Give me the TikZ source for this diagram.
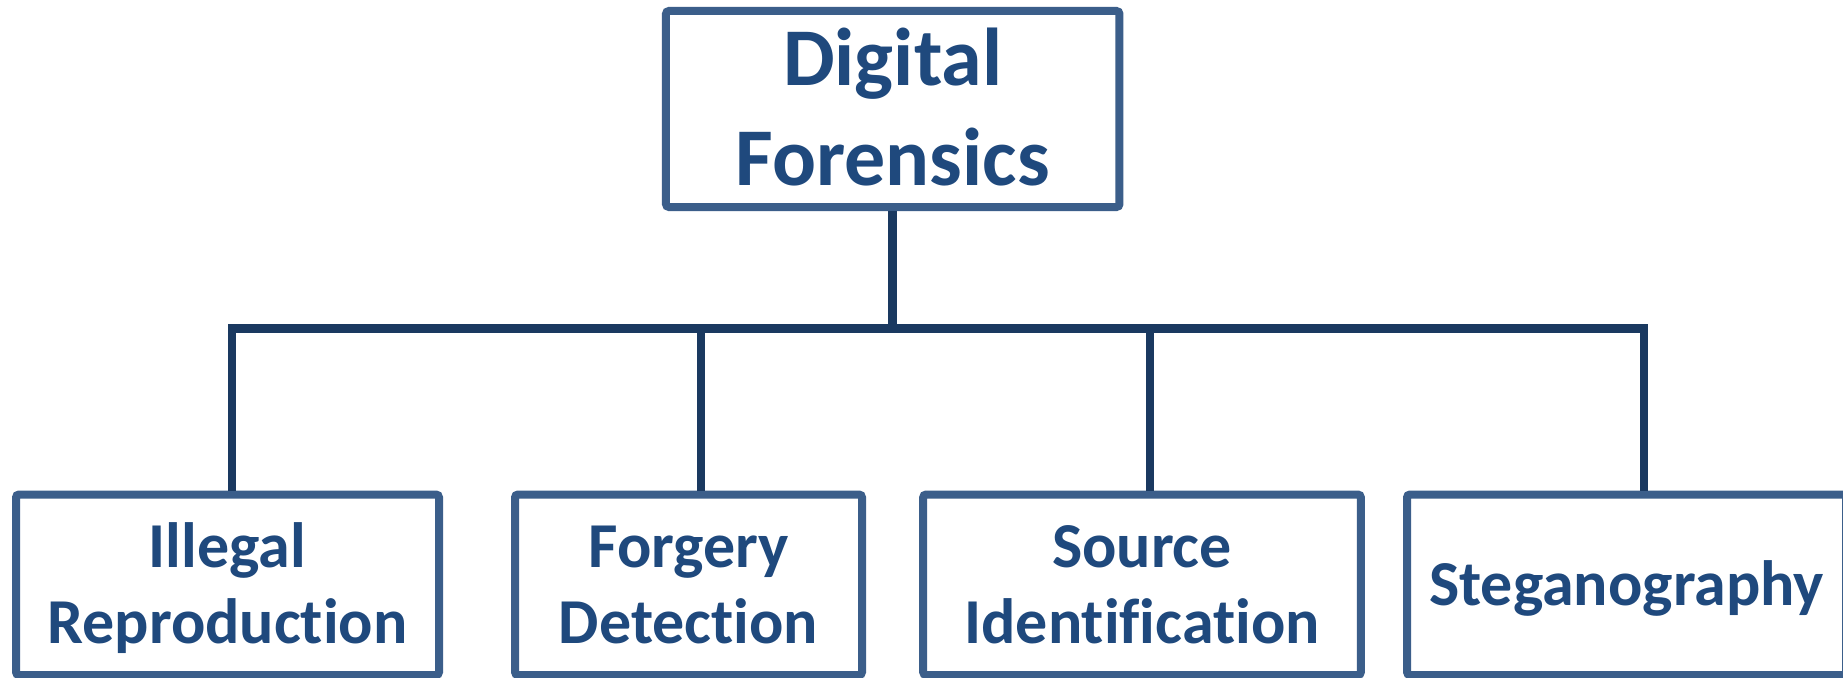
\documentclass[tikz,border=0pt]{standalone}
\usepackage{fontspec}
\setmainfont[Ligatures={NoCommon,NoRare,NoDiscretionary}]{Carlito}
\definecolor{boxblue}{RGB}{59,94,138}
\definecolor{linkblue}{RGB}{26,57,96}
\definecolor{textblue}{RGB}{31,73,125}
% each line is centred on its cap height, descenders do not count
\newcommand{\capline}[1]{\smash{#1}\vphantom{I}}
\tikzset{
  box/.style={draw=boxblue, line width=8pt, rounded corners=3pt, fill=white,
    align=center, text=textblue, inner sep=0pt},
  topbox/.style={box, minimum width=453.5pt, minimum height=196pt,
    font=\fontsize{82}{100}\selectfont\bfseries},
  leaf/.style={box, minimum height=180.5pt,
    font=\fontsize{64}{76}\selectfont\bfseries},
  link/.style={draw=linkblue, line width=8.5pt}
}
\begin{document}
\begin{tikzpicture}[x=1pt, y=-1pt]
  \fill[white] (0,0) rectangle (1843,677);
  \useasboundingbox (0,0) rectangle (1843,677);

  % root and the four branches
  \node[topbox] (root) at (892.7,109) {\capline{Digital}\\\capline{Forensics}};
  \node[leaf, minimum width=423pt]   (b1) at (227.5,584.75) {\capline{Illegal}\\\capline{Reproduction}};
  \node[leaf, minimum width=347pt]   (b2) at (688.5,584.75) {\capline{Forgery}\\\capline{Detection}};
  \node[leaf, minimum width=437.7pt] (b3) at (1142,584.75)  {\capline{Source}\\\capline{Identification}};
  \node[leaf, minimum width=439pt]   (b4) at (1626.5,584.75) {\capline{Steganography}};

  % junctions on the horizontal bar
  \coordinate (j1) at (232,328.5);
  \coordinate (j2) at (700.8,328.5);
  \coordinate (j3) at (1150,328.5);
  \coordinate (j4) at (1644,328.5);
  \coordinate (hub) at (root.south |- j1);

  % connectors
  \draw[link] (root.south) -- (hub);
  \draw[link] (j1 |- b1.north) -- (j1) -- (j4) -- (j4 |- b4.north);
  \draw[link] (j2) -- (j2 |- b2.north);
  \draw[link] (j3) -- (j3 |- b3.north);
\end{tikzpicture}
\end{document}
